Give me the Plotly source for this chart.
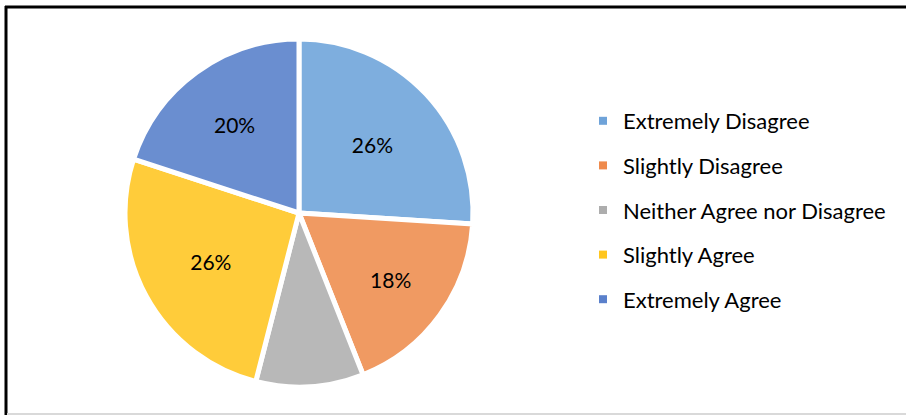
import plotly.graph_objects as go

labels = ["Extremely Disagree", "Slightly Disagree", "Neither Agree nor Disagree",
          "Slightly Agree", "Extremely Agree"]
values = [26, 18, 10, 26, 20]
colors = ["#7EAEDE", "#F09A62", "#B8B8B8", "#FFCC3A", "#6A8ED0"]
legend_colors = ["#6FA3D9", "#EF8A4C", "#ADADAD", "#FFC61F", "#5A80CB"]
show_label = [True, True, False, True, True]

W, H = 906, 415
cx, cy, r = 299, 213, 174

fig = go.Figure()
fig.add_trace(go.Pie(
    labels=labels, values=values, sort=False, direction="clockwise", rotation=0,
    marker=dict(colors=colors, line=dict(color="white", width=5)),
    textinfo="percent",
    textposition=["inside" if s else "none" for s in show_label],
    insidetextorientation="horizontal",
    textfont=dict(family="Lato", size=21, color="black"),
    showlegend=False, hoverinfo="label+percent",
    domain=dict(x=[(cx - r) / W, (cx + r) / W], y=[1 - (cy + r) / H, 1 - (cy - r) / H]),
))
for i, (lab, col) in enumerate(zip(labels, legend_colors)):
    fig.add_trace(go.Scatter(
        x=[None], y=[None], mode="markers", name=lab, legendgroup=f"g{i}",
        marker=dict(symbol="square", size=8, color=col), showlegend=True,
    ))

fig.update_layout(
    width=W, height=H, margin=dict(l=0, r=0, t=0, b=0),
    paper_bgcolor="white", plot_bgcolor="white",
    xaxis=dict(visible=False, domain=[0.99, 1]), yaxis=dict(visible=False, domain=[0.99, 1]),
    legend=dict(x=583 / W, y=1 - 100 / H, xanchor="left", yanchor="top",
                font=dict(family="Lato", size=22, color="black"),
                tracegroupgap=13, itemwidth=30, bgcolor="rgba(0,0,0,0)"),
    shapes=[
        dict(type="line", xref="paper", yref="paper", x0=5 / W, x1=1, y0=1 - 7 / H, y1=1 - 7 / H,
             line=dict(color="black", width=3)),
        dict(type="line", xref="paper", yref="paper", x0=6 / W, x1=6 / W, y0=0, y1=1 - 6 / H,
             line=dict(color="black", width=3)),
        dict(type="line", xref="paper", yref="paper", x0=7 / W, x1=1, y0=1 / H, y1=1 / H,
             line=dict(color="#D9D9D9", width=2)),
    ],
)
fig.write_html("out.html", config={"displayModeBar": False},
               post_script="document.body.style.margin='0';")
